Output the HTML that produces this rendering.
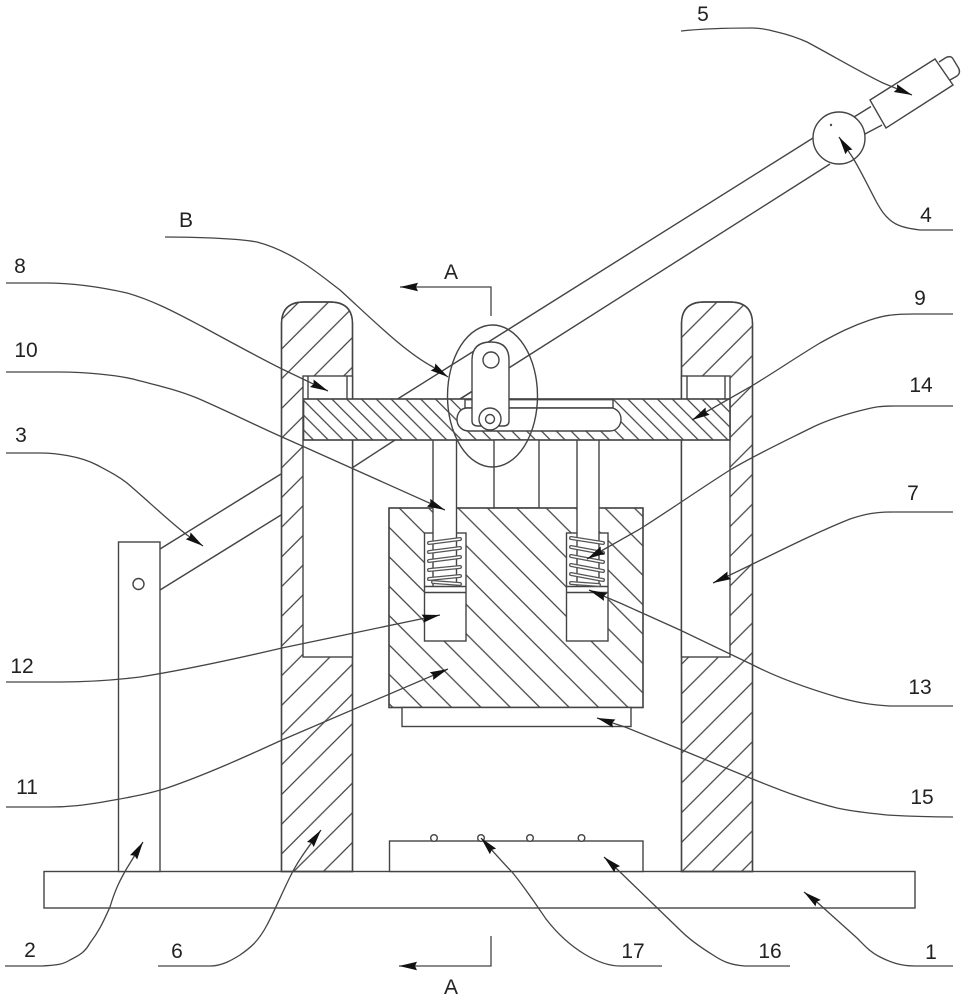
<!DOCTYPE html>
<html>
<head>
<meta charset="utf-8">
<style>
html,body{margin:0;padding:0;background:#fff;}
svg{display:block;}
text{font-family:"Liberation Sans",sans-serif;font-size:21px;fill:#222;text-anchor:middle;}
</style>
</head>
<body>
<svg width="966" height="1000" viewBox="0 0 966 1000" xmlns="http://www.w3.org/2000/svg">
<defs>
<pattern id="hL" patternUnits="userSpaceOnUse" x="957.3" y="0" width="29.7" height="29.7">
<path d="M-2 2L2 -2M0 29.7L29.7 0M27.7 31.7L31.7 27.7" stroke="#444" stroke-width="1.3" fill="none"/>
</pattern>
<pattern id="hR" patternUnits="userSpaceOnUse" x="989.3" y="0" width="29.7" height="29.7">
<path d="M-2 2L2 -2M0 29.7L29.7 0M27.7 31.7L31.7 27.7" stroke="#444" stroke-width="1.3" fill="none"/>
</pattern>
<pattern id="hB" patternUnits="userSpaceOnUse" x="214" y="0" width="14.8" height="14.8">
<path d="M-2 -2L16.8 16.8M12.8 -2L16.8 2M-2 12.8L2 16.8" stroke="#444" stroke-width="1.3" fill="none"/>
</pattern>
<pattern id="hK" patternUnits="userSpaceOnUse" x="-50" y="0" width="29.4" height="29.4">
<path d="M-2 -2L31.4 31.4M27.4 -2L31.4 2M-2 27.4L2 31.4" stroke="#444" stroke-width="1.3" fill="none"/>
</pattern>
<marker id="ar" markerUnits="userSpaceOnUse" markerWidth="24" markerHeight="12" refX="19" refY="6" orient="auto">
<path d="M3 6L1 1.800L19 6L1 10.200Z" fill="#111"/>
</marker>
</defs>

<rect width="966" height="1000" fill="#fff"/>

<g stroke="#444" stroke-width="1.4" fill="none">
<!-- base -->
<rect x="44" y="871.500" width="871" height="36.500" fill="#fff"/>
<!-- post 2 -->
<rect x="118.500" y="542" width="41.500" height="329.500" fill="#fff"/>
<circle cx="138.500" cy="584" r="5.500" fill="#fff"/>

<!-- lever -->
<path d="M160 549L281 474"/>
<path d="M160 590L281 515"/>
<path d="M396 400L813 138"/>
<path d="M352 468L395 440"/>
<path d="M460 399L830 164"/>

<!-- posts -->
<path d="M281.500 871.500V324Q281.500 302 304 302H330Q352.500 302 352.500 324V871.500Z" fill="#fff"/>
<path d="M281.500 871.500V324Q281.500 302 304 302H330Q352.500 302 352.500 324V871.500Z" fill="url(#hL)"/>
<path d="M681.500 871.500V324Q681.500 302 704 302H730Q752.500 302 752.500 324V871.500Z" fill="#fff"/>
<path d="M681.500 871.500V324Q681.500 302 704 302H730Q752.500 302 752.500 324V871.500Z" fill="url(#hR)"/>
<!-- slots -->
<rect x="303" y="376" width="49.500" height="281" fill="#fff"/>
<rect x="681.500" y="376" width="48.500" height="281" fill="#fff"/>
<path d="M308 376V399M347 376V399M687 376V399M725 376V399"/>

<!-- cross bar -->
<rect x="303.500" y="399" width="426.500" height="41" fill="#fff"/>
<rect x="303.500" y="399" width="426.500" height="41" fill="url(#hB)"/>
<path d="M465 399.700H613V408H465Z" fill="#fff"/>
<path d="M472 408H467C461 408 457 413 457 419.500C457 426 462 431 469 431H610C616 431 621 426 621 419.500C621 414 618 410 613 408H472Z" fill="#fff"/>
<path d="M460 399L472 391.500"/>

<!-- stem -->
<rect x="494" y="440" width="45" height="68" fill="#fff"/>

<!-- slider block -->
<rect x="389" y="508" width="254" height="199.500" fill="#fff"/>
<rect x="389" y="508" width="254" height="199.500" fill="url(#hK)"/>
<rect x="424.500" y="533" width="41.500" height="108" fill="#fff"/>
<rect x="566.500" y="533" width="41.500" height="108" fill="#fff"/>
<rect x="433" y="506" width="23.500" height="32" fill="#fff" stroke="none"/>
<rect x="577" y="506" width="22" height="32" fill="#fff" stroke="none"/>
<path d="M424.500 586.500H466M424.500 592.500H466M566.500 586.500H608M566.500 592.500H608"/>
<path d="M433 440V586M456.500 440V586M577 440V586M599 440V586"/>
<rect x="402" y="707.500" width="229" height="19" fill="#fff"/>

<!-- box 16 -->
<rect x="389.500" y="841" width="253.500" height="30.500" fill="#fff"/>
<circle cx="434" cy="838" r="3.300" fill="#fff"/>
<circle cx="481" cy="838" r="3.300" fill="#fff"/>
<circle cx="530" cy="838" r="3.300" fill="#fff"/>
<circle cx="581.500" cy="838" r="3.300" fill="#fff"/>

<!-- link -->
<path d="M472 392V360Q472 342 491 342Q509 342 509 360V421Q509 426 503 426H478Q472 426 472 421Z" fill="#fff"/>
<circle cx="491" cy="360" r="8" fill="#fff"/>
<circle cx="490" cy="419" r="11" fill="#fff"/>
<circle cx="490" cy="419" r="4.500" fill="#fff"/>
<ellipse cx="492.500" cy="396" rx="45" ry="71"/>

<!-- handle -->
<path d="M854 117L871 106.500M865 134L882 125"/>
<path d="M870 100L935 59L953 85L886 128Z" fill="#fff"/>
<path d="M939 62L946 57.500Q950 55.500 952.500 58L958.500 68Q961 73 957 76L950 80"/>
<circle cx="839" cy="138" r="26" fill="#fff"/>
<circle cx="831" cy="125" r="0.500"/>
</g>

<!-- springs -->
<g fill="none" stroke-linecap="round">
<path d="M429 543L460 539M429 552L460 548M429 561L460 557M429 570L460 567M429 579L460 576M433 582L460 584" stroke="#555" stroke-width="4"/>
<path d="M429 543L460 539M429 552L460 548M429 561L460 557M429 570L460 567M429 579L460 576M433 582L460 584" stroke="#fff" stroke-width="1.400"/>
<path d="M571 538L603 543M571 547L603 553M571 556L603 562M571 565L603 571M571 574L603 580M571 583L599 585" stroke="#555" stroke-width="4"/>
<path d="M571 538L603 543M571 547L603 553M571 556L603 562M571 565L603 571M571 574L603 580M571 583L599 585" stroke="#fff" stroke-width="1.400"/>
</g>

<!-- leader lines -->
<g stroke="#444" stroke-width="1.300" fill="none">
<path d="M681 31C700 29 730 28 752 28C762 28 770 30 777 32C790 35 798 38 807 42C835 57 860 72 883 83L912 95" marker-end="url(#ar)"/>
<path d="M953 230H920C905 228 897 226 890 220C883 214 880 208 877 203C870 190 862 173 853 158L839 137" marker-end="url(#ar)"/>
<path d="M165 237C190 237 235 238 257 242C272 246 287 253 300 261C315 270 328 281 340 290C375 322 405 352 433 367L448 377" marker-end="url(#ar)"/>
<path d="M6 283H45C75 283 105 288 127 293C155 301 180 315 203 327C225 339 260 358 282 369L328 391" marker-end="url(#ar)"/>
<path d="M6 372H60C85 372 115 375 133 379C155 385 175 389 197 398C225 410 255 425 282 437L300 445L445 510" marker-end="url(#ar)"/>
<path d="M6 453H40C55 453 80 456 97 465C110 472 118 476 127 483C147 500 170 522 187 535L203 546" marker-end="url(#ar)"/>
<path d="M953 314H915C895 314 885 315 870 320C852 326 838 333 820 343C795 358 775 372 750 387L692 420" marker-end="url(#ar)"/>
<path d="M953 406H895C880 406 875 407 867 409C850 413 830 419 813 427C785 441 755 455 730 470C700 489 670 510 640 529L587 559" marker-end="url(#ar)"/>
<path d="M953 512H893C875 512 865 514 850 519C810 535 770 556 730 575L713 583" marker-end="url(#ar)"/>
<path d="M6 682H60C90 682 115 680 140 677C190 669 235 659 282 648L440 615" marker-end="url(#ar)"/>
<path d="M6 807H50C70 807 85 805 103 802C125 798 145 795 167 788C205 775 245 757 282 740L448 669" marker-end="url(#ar)"/>
<path d="M953 706H890C870 705 855 702 837 697C810 689 780 679 753 665L680 630L620 603L589 590" marker-end="url(#ar)"/>
<path d="M953 817C930 817 905 816 887 815C870 813 855 812 837 808C805 800 780 790 750 778L682 750L625 727L597 718" marker-end="url(#ar)"/>
<path d="M5 966H43C55 965 62 965 70 960C80 955 85 952 90 943C100 930 104 920 110 907C115 890 120 880 127 868L143 842" marker-end="url(#ar)"/>
<path d="M158 966H210C222 966 232 960 240 955C250 948 258 942 267 925C275 910 282 893 290 877C298 860 310 845 321 830" marker-end="url(#ar)"/>
<path d="M662 966H620C600 966 570 950 546 919C535 903 523 885 512 872C505 865 490 848 481 838" marker-end="url(#ar)"/>
<path d="M790 966H745C730 965 722 961 713 955C700 947 690 940 680 930L618 870L604 857" marker-end="url(#ar)"/>
<path d="M953 966H915C900 966 890 962 880 957C870 952 865 946 857 938L818 903L804 892" marker-end="url(#ar)"/>
</g>

<!-- section marks -->
<g stroke="#444" stroke-width="1.300" fill="none">
<path d="M491 316V287H400" marker-end="url(#ar)"/>
<path d="M491 936V966H399" marker-end="url(#ar)"/>
</g>

<!-- labels -->
<text x="703" y="21">5</text>
<text x="926" y="222">4</text>
<text x="186" y="227">B</text>
<text x="20" y="273">8</text>
<text x="451" y="279">A</text>
<text x="920" y="305">9</text>
<text x="26" y="357">10</text>
<text x="921" y="392">14</text>
<text x="21" y="442">3</text>
<text x="913" y="500">7</text>
<text x="22" y="673">12</text>
<text x="920" y="694">13</text>
<text x="27" y="794">11</text>
<text x="922" y="804">15</text>
<text x="30" y="957">2</text>
<text x="177" y="958">6</text>
<text x="633" y="958">17</text>
<text x="770" y="958">16</text>
<text x="931" y="959">1</text>
<text x="451" y="994">A</text>
</svg>
</body>
</html>
